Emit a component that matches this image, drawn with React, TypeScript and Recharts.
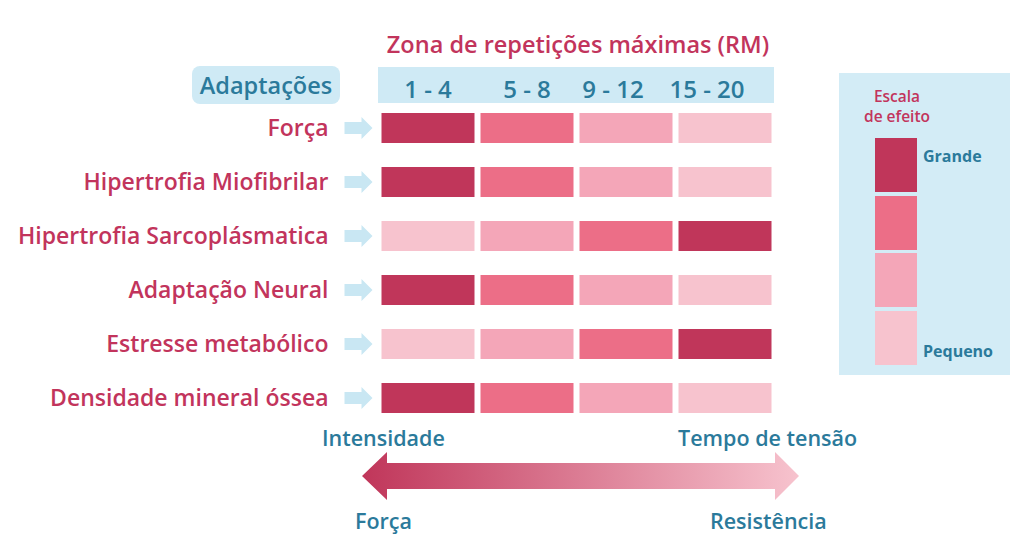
import React from 'react';
import { BarChart, Bar, XAxis, YAxis, Cell } from 'recharts';

// effect level per row for each repetition zone: 4 = grande ... 1 = pequeno
const adaptations = [
  'Força',
  'Hipertrofia Miofibrilar',
  'Hipertrofia Sarcoplásmatica',
  'Adaptação Neural',
  'Estresse metabólico',
  'Densidade mineral óssea',
];
const zones = ['1 - 4', '5 - 8', '9 - 12', '15 - 20'];
const effectLevels = [
  [4, 3, 2, 1],
  [4, 3, 2, 1],
  [1, 2, 3, 4],
  [4, 3, 2, 1],
  [1, 2, 3, 4],
  [4, 3, 2, 1],
];
const scaleLevels = [4, 3, 2, 1];
const scaleLabels = ['Grande', '', '', 'Pequeno'];

const levelColor: Record<number, string> = {
  4: '#c0365a',
  3: '#ec6e87',
  2: '#f4a6b8',
  1: '#f7c3ce',
};

const RED = '#c2345c';
const BLUE = '#2b7a9b';
const PALE = '#cfeaf5';
const FONT = '"Open Sans", sans-serif';

const zoneKeys = zones.map((_, i) => `z${i}`);
const data = adaptations.map((name) => {
  const row: Record<string, string | number> = { name };
  zoneKeys.forEach((k) => (row[k] = 1));
  return row;
});

const RowTick = (props: any) => {
  const { x, y, payload } = props;
  const ax = x - 26;
  return (
    <g>
      <text x={x - 42} y={y} dy={8} textAnchor="end" fill={RED} fontSize={23} fontWeight={600} fontFamily={FONT}>
        {payload.value}
      </text>
      <polygon
        points={`${ax},${y - 6} ${ax + 17},${y - 6} ${ax + 17},${y - 11} ${ax + 28},${y} ${ax + 17},${y + 11} ${ax + 17},${y + 6} ${ax},${y + 6}`}
        fill="#c9e7f3"
      />
    </g>
  );
};

const zoneShift = [0, 0, -13, -18];

const ZoneTick = (props: any) => {
  const { x, y, payload, index } = props;
  return (
    <text x={x + (zoneShift[index] || 0)} y={y + 5} textAnchor="middle" fill={BLUE} fontSize={24} fontWeight={600} fontFamily={FONT}>
      {zones[index] ?? payload.value}
    </text>
  );
};

const InsetRect = (props: any) => {
  const { x, y, width, height, fill } = props;
  return <rect x={x + 3} y={y} width={Math.max(width - 6, 0)} height={height} fill={fill} />;
};

const sideText = (size: number): React.CSSProperties => ({
  position: 'absolute', color: BLUE, fontSize: size, fontWeight: 600, lineHeight: 1, whiteSpace: 'nowrap',
});

const scaleTitle: React.CSSProperties = {
  position: 'absolute', left: 0, width: 116, textAlign: 'center', color: RED, fontSize: 15.5, fontWeight: 600, lineHeight: 1,
};

const App: React.FC = () => {
  return (
    <div style={{ position: 'absolute', left: 0, top: 0, width: 1023, height: 551, background: '#fff', fontFamily: FONT }}>
      {/* header band and "Adaptações" box */}
      <div style={{ position: 'absolute', left: 378, top: 67, width: 396, height: 36, background: PALE }} />
      <div
        style={{
          position: 'absolute', left: 192, top: 66, width: 148, height: 38, background: PALE, borderRadius: 8,
          color: BLUE, fontSize: 23.5, fontWeight: 600, display: 'flex', alignItems: 'center', justifyContent: 'center',
        }}
      >
        Adaptações
      </div>
      <div style={{ position: 'absolute', left: 368, top: 28, width: 420, textAlign: 'center', color: RED, fontSize: 23.5, fontWeight: 600, lineHeight: '32px' }}>
        Zona de repetições máximas (RM)
      </div>

      <div style={{ position: 'absolute', left: 0, top: 0 }}>
        <BarChart
          width={1023}
          height={551}
          data={data}
          layout="vertical"
          margin={{ top: 68, right: 248.5, bottom: 126, left: 8.5 }}
        >
          <XAxis
            type="number"
            xAxisId="zones"
            orientation="top"
            domain={[0, 4]}
            ticks={[0.5, 1.5, 2.5, 3.5]}
            height={33}
            axisLine={false}
            tickLine={false}
            tick={<ZoneTick />}
          />
          <YAxis type="category" dataKey="name" width={370} axisLine={false} tickLine={false} tick={<RowTick />} />
          {zoneKeys.map((k, ci) => (
            <Bar key={k} dataKey={k} xAxisId="zones" stackId="cells" barSize={30} isAnimationActive={false} shape={<InsetRect />}>
              {data.map((_, ri) => (
                <Cell key={ri} fill={levelColor[effectLevels[ri][ci]]} />
              ))}
            </Bar>
          ))}
        </BarChart>
      </div>

      {/* effect scale */}
      <div style={{ position: 'absolute', left: 839, top: 73, width: 171, height: 302, background: '#d3ecf6' }}>
        <div style={{ ...scaleTitle, top: 16 }}>Escala</div>
        <div style={{ ...scaleTitle, top: 36 }}>de efeito</div>
        {scaleLevels.map((lv, i) => (
          <div key={lv} style={{ position: 'absolute', left: 36, top: 65 + i * 57.5, width: 42, height: 54, background: levelColor[lv] }} />
        ))}
        {scaleLabels.map((t, i) =>
          t ? (
            <div key={t} style={{ position: 'absolute', left: 84, top: i === 0 ? 75 : 270, color: BLUE, fontSize: 16, fontWeight: 700, lineHeight: 1 }}>
              {t}
            </div>
          ) : null,
        )}
      </div>

      {/* bottom arrow */}
      <div style={{ ...sideText(21.5), left: 322, top: 427 }}>Intensidade</div>
      <div style={{ ...sideText(21.5), left: 678, top: 427 }}>Tempo de tensão</div>
      <div style={{ ...sideText(21.5), left: 355, top: 510 }}>Força</div>
      <div style={{ ...sideText(21.5), left: 710, top: 510 }}>Resistência</div>
      <svg style={{ position: 'absolute', left: 0, top: 0 }} width={1023} height={551}>
        <defs>
          <linearGradient id="arrowGrad" x1="0" x2="1" y1="0" y2="0">
            <stop offset="0%" stopColor="#c0365a" />
            <stop offset="100%" stopColor="#f7c3ce" />
          </linearGradient>
        </defs>
        <polygon
          points="362,476 387,452 387,463 775,463 775,452 799,476 775,500 775,489 387,489 387,500"
          fill="url(#arrowGrad)"
        />
      </svg>
    </div>
  );
};

export default App;
